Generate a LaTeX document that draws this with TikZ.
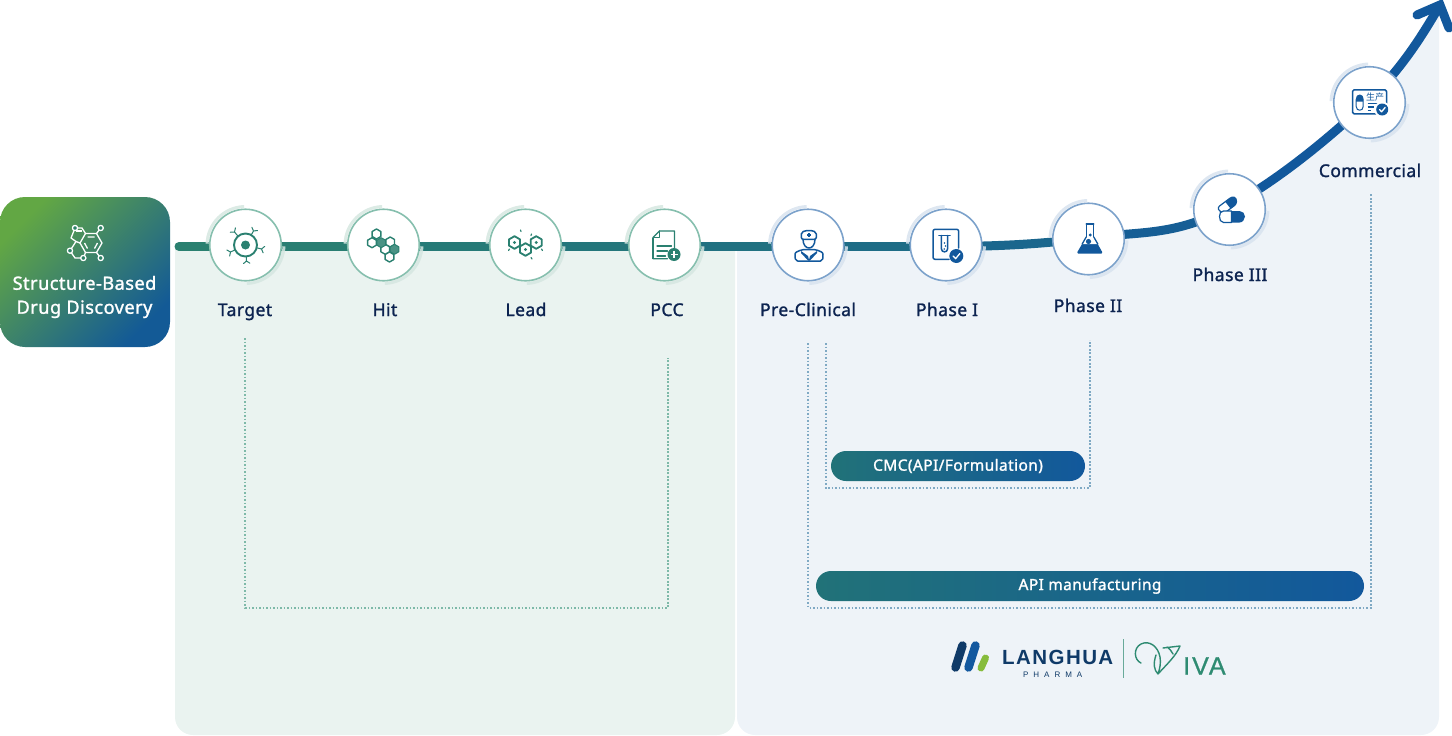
\documentclass[tikz,border=0pt]{standalone}
\usepackage{fontspec}
\setmainfont{Noto Sans}
\newfontfamily\labfont{Noto Sans}[FakeBold=1.4,LetterSpace=2.5]
\newfontfamily\logofont{Liberation Sans}[LetterSpace=7]
\newfontfamily\pharmafont{Liberation Sans}[LetterSpace=62]
\newfontfamily\ivafont{Liberation Sans}[LetterSpace=8,FakeBold=1]
\newfontfamily\cjk{Noto Sans CJK SC}
\pgfdeclarelayer{panel}\pgfdeclarelayer{flow}\pgfdeclarelayer{halo}
\pgfsetlayers{panel,flow,halo,main}
\definecolor{gdark}{HTML}{2A8070}
\definecolor{gring}{HTML}{86BFAE}
\definecolor{ghalo}{HTML}{D6E7E1}
\definecolor{bdark}{HTML}{12589C}
\definecolor{bring}{HTML}{7CA2CB}
\definecolor{bhalo}{HTML}{D8E3EF}
\definecolor{navy}{HTML}{0C2350}
\definecolor{leftpanel}{HTML}{EAF3F0}
\definecolor{rightpanel}{HTML}{EEF3F8}
\definecolor{logonavy}{HTML}{0F3A68}
\definecolor{logoblue}{HTML}{12589F}
\definecolor{logogreen}{HTML}{86BC3C}
\definecolor{viva}{HTML}{2E8B72}
\definecolor{boxa}{HTML}{62A744}
\definecolor{boxb}{HTML}{2E8268}
\definecolor{boxc}{HTML}{135A96}
\definecolor{pilla}{HTML}{217278}
\tikzset{
  x=1pt,y=-1pt,
  stage/.style={circle,minimum size=71.5pt,inner sep=0pt,fill=white,draw=#1,line width=1.6pt},
  steplabel/.style={font=\labfont\fontsize{17.5}{20}\selectfont,text=navy,inner sep=0pt,anchor=base},
  seg/.style={draw=#1,line width=9pt},
  pill/.style={rounded corners=15pt,inner sep=0pt,minimum height=30pt,left color=pilla,right color=bdark,text=white,font=\labfont\fontsize{15.5}{18}\selectfont},
  dotg/.style={draw=#1,line width=2pt,dash pattern=on 1.9pt off 1.6pt},
  ico/.style={draw=#1,line width=1.5pt,line join=round,line cap=round},
}
\newcommand\halos[2]{%
  \draw[#2,line width=3pt] ([shift={(92:38.5pt)}]#1.center) arc[start angle=92,end angle=178,radius=38.5pt];
  \draw[#2,line width=3pt] ([shift={(-88:38.5pt)}]#1.center) arc[start angle=-88,end angle=-2,radius=38.5pt];}
\newcommand\hexa[3]{(#1,#2-#3) -- (#1+0.866*#3,#2-0.5*#3) -- (#1+0.866*#3,#2+0.5*#3) -- (#1,#2+#3) -- (#1-0.866*#3,#2+0.5*#3) -- (#1-0.866*#3,#2-0.5*#3) -- cycle}
\newcommand\checkdot[4]{\fill[#4] (#1,#2) circle[radius=#3pt];
  \draw[white,line width=1.3pt,line cap=round,line join=round] (#1-0.45*#3,#2) -- (#1-0.1*#3,#2+0.38*#3) -- (#1+0.5*#3,#2-0.35*#3);}
\newcommand\ynub[2]{\draw[ico=gdark,line width=1pt] (0.72*#1,0.72*#2) -- (#1,#2) (#1,#2) -- +(0.2*#2+0.15*#1,-0.2*#1+0.15*#2) (#1,#2) -- +(-0.2*#2+0.15*#1,0.2*#1+0.15*#2);}
\begin{document}
\begin{tikzpicture}
\useasboundingbox (0,0) rectangle (1452,736);

% nodes
\node[rounded corners=25pt,minimum width=170pt,minimum height=150pt,inner sep=0pt,left color=boxa,middle color=boxb,right color=boxc,shading angle=45] (sbdd) at (85,272) {};
\node[stage=gring] (target) at (245.5,245) {};
\node[stage=gring] (hit) at (383.5,245) {};
\node[stage=gring] (lead) at (525.5,245) {};
\node[stage=gring] (pcc) at (664.5,245) {};
\node[stage=bring] (pre) at (808,245) {};
\node[stage=bring] (ph1) at (946,245) {};
\node[stage=bring] (ph2) at (1088.5,239) {};
\node[stage=bring] (ph3) at (1229.5,209.5) {};
\node[stage=bring] (com) at (1369.5,102.5) {};
\coordinate (flowstart) at (179,246.5);
\coordinate (flowtip) at (1440,5);

% panels
\begin{pgfonlayer}{panel}
\fill[leftpanel] (175,247) -- (175,717) .. controls (175,727) and (183,735) .. (193,735) -- (717,735) .. controls (727,735) and (735,727) .. (735,717) -- (735,247) -- cycle;
\begin{scope}
\clip (737,0) -- (737,717) .. controls (737,727) and (745,735) .. (755,735) -- (1421,735) .. controls (1431,735) and (1439,727) .. (1439,717) -- (1439,0) -- cycle;
\fill[rightpanel] (737,246.5) -- ([yshift=-1.5pt]ph1.center) .. controls +(50,0) and +(-45,6) .. ([yshift=1pt]ph2.center) .. controls +(50,-7) and +(-55,30) .. ([yshift=2.5pt]ph3.center) .. controls +(50,-28) and +(-40,38) .. ([yshift=2.5pt]com.center) .. controls +(30,-30) and +(-22,38) .. (flowtip) -- (1452,736) -- (737,736) -- cycle;
\end{scope}
\end{pgfonlayer}

% flow line
\begin{pgfonlayer}{flow}
\draw[seg=gdark,line cap=round] (flowstart) -- ([yshift=-1.5pt]target.center);
\draw[seg=gdark!96!bdark] ([yshift=-1.5pt]target.center) -- ([yshift=-1.5pt]hit.center);
\draw[seg=gdark!84!bdark] ([yshift=-1.5pt]hit.center) -- ([yshift=-1.5pt]lead.center);
\draw[seg=gdark!74!bdark] ([yshift=-1.5pt]lead.center) -- ([yshift=-1.5pt]pcc.center);
\draw[seg=gdark!62!bdark] ([yshift=-1.5pt]pcc.center) -- ([yshift=-1.5pt]pre.center);
\draw[seg=gdark!50!bdark] ([yshift=-1.5pt]pre.center) -- ([yshift=-1.5pt]ph1.center);
\draw[seg=gdark!35!bdark] ([yshift=-1.5pt]ph1.center) .. controls +(50,0) and +(-45,6) .. ([yshift=1pt]ph2.center);
\draw[seg=gdark!15!bdark] ([yshift=1pt]ph2.center) .. controls +(50,-7) and +(-55,30) .. ([yshift=2.5pt]ph3.center);
\draw[seg=bdark] ([yshift=2.5pt]ph3.center) .. controls +(50,-28) and +(-40,38) .. ([yshift=2.5pt]com.center);
\draw[seg=bdark] ([yshift=2.5pt]com.center) .. controls +(30,-30) and +(-22,38) .. (flowtip);
\draw[seg=bdark,line cap=round,line join=miter,fill=none] (1417,15) -- (flowtip) -- (1449,28);
\end{pgfonlayer}

% halos
\begin{pgfonlayer}{halo}
\foreach \n in {target,hit,lead,pcc}{\halos{\n}{ghalo,opacity=.85}}
\foreach \n in {pre,ph1,ph2,ph3,com}{\halos{\n}{bhalo,opacity=.85}}
\end{pgfonlayer}

% dotted guides
\draw[dotg=gring!90!gdark] (245,338) -- (245,607.5) -- (668,607.5) -- (668,358);
\draw[dotg=bring!75!gring] (808,343) -- (808,607.5) -- (1371,607.5) -- (1371,193);
\draw[dotg=bring!75!gring] (825.5,343) -- (825.5,487.5) -- (1090,487.5) -- (1090,340);

% labels
\node[steplabel] (ltarget) at (245,316) {Target};
\node[steplabel] (lhit) at (385,316) {Hit};
\node[steplabel] (llead) at (526,316) {Lead};
\node[steplabel] (lpcc) at (667,316) {PCC};
\node[steplabel] (lpre) at (808,316) {Pre-Clinical};
\node[steplabel] (lph1) at (947,316) {Phase I};
\node[steplabel] (lph2) at (1088,312) {Phase II};
\node[steplabel] (lph3) at (1230,281) {Phase III};
\node[steplabel] (lcom) at (1370,177) {Commercial};
\node[inner sep=0pt,text=white,font=\labfont\fontsize{18.2}{24}\selectfont,align=center] (sbddtext) at (84.5,297) {Structure-Based\\Drug Discovery};

% pills
\node[pill,minimum width=254pt] (cmc) at (958,466) {CMC(API/Formulation)};
\node[pill,minimum width=548pt] (api) at (1090,586) {API manufacturing};

% molecule icon
\begin{scope}[line width=1.3pt,white,line join=round]
\draw (80,243) -- (85.5,233.5) -- (96.5,233.5) -- (102,243) -- (96.5,252.5) -- (85.5,252.5) -- cycle;
\draw (87.5,237) -- (94.5,237) (97.5,243) -- (94.5,248.5) (87.5,248.5) -- (84.5,243);
\draw (75,228) -- (82,228) -- (85.5,233.5) (75,228) -- (71,238) -- (76,241.5) -- (80,243);
\draw (76,231) -- (81.5,231);
\draw (70,250.7) -- (76,241.5) (70,250.7) -- (75,258) -- (83.3,258) -- (85.5,252.5);
\draw (100.7,228) -- (96.5,233.5) (100.7,258) -- (96.5,252.5);
\foreach \p in {(75,228),(100.7,228),(70,250.7),(83.3,258),(100.7,258)}{\filldraw[fill=boxb] \p circle[radius=2.6pt];}
\end{scope}

% target icon
\begin{scope}[shift={(target.center)}]
\draw[gdark,line width=1.9pt] (0,0) circle[radius=11.5pt];
\fill[gdark] (0,0) circle[radius=4.5pt];
\ynub{-11}{-13}\ynub{8}{-14}\ynub{16}{4}\ynub{1}{16}\ynub{-15}{7}
\end{scope}

% hit icon
\begin{scope}[shift={(hit.center)}]
\draw[ico=gdark,line width=1.4pt] \hexa{-7}{-11}{5} \hexa{-11.5}{-2.3}{5} \hexa{6.7}{-3}{5} \hexa{1.7}{4.3}{5} \hexa{6}{12}{5};
\filldraw[ico=gdark,line width=1pt,fill=gdark!85] \hexa{-2.3}{-2.3}{5};
\filldraw[ico=gdark,line width=1pt,fill=gdark!85] \hexa{11}{4.3}{5};
\end{scope}

% lead icon
\begin{scope}[shift={(lead.center)}]
\draw[ico=gdark,line width=1.8pt] \hexa{-11}{-2.5}{6.3} \hexa{10.7}{-2.5}{6.3} \hexa{0}{4.5}{6.3};
\fill[gdark] (-11,-2.5) circle[radius=1.7pt] (10.7,-2.5) circle[radius=1.7pt] (0,4.5) circle[radius=1.7pt];
\draw[ico=gdark,line width=1.2pt] (-4.5,-13.5) -- (-5,-15) (5.5,12.5) -- (6.5,14) (5.5,-9.5) -- (6,-11) (-16,4) -- (-17,5.5) (16,4) -- (17,5.5);
\end{scope}

% pcc icon
\begin{scope}[shift={(pcc.center)}]
\draw[ico=gdark,line width=1.3pt] (-11.5,-7.5) -- (-5,-14) -- (10,-14) -- (10,5) (3,13.7) -- (-11.5,13.7) -- cycle;
\draw[ico=gdark,line width=1.3pt] (-11.5,-7.5) -- (-5,-7.5) -- (-5,-14) (-7.5,1) -- (7,1) (-7.5,6) -- (3,6) (-7.5,11) -- (1,11);
\draw[gdark,line width=1.3pt] (-11.5,-7.5) -- (-11.5,13.7);
\fill[gdark] (9.5,9.5) circle[radius=6.5pt];
\draw[white,line width=1.3pt] (6,9.5) -- (13,9.5) (9.5,6) -- (9.5,13);
\end{scope}

% doctor icon
\begin{scope}[shift={(pre.center)}]
\draw[ico=bdark,rounded corners=2pt] (-6.7,-5.7) -- (-6.7,-13) -- (1,-15) -- (8.3,-13) -- (8.3,-5.7) -- cycle;
\draw[bdark,line width=1.3pt] (-0.8,-10) -- (2.8,-10) (1,-11.8) -- (1,-8.2);
\draw[ico=bdark] (-5,-5.7) .. controls (-5,0) and (-2,3) .. (1,3) .. controls (4,3) and (7,0) .. (7,-5.7);
\draw[ico=bdark,rounded corners=2pt] (-12.5,16) -- (-13,11) .. controls (-13,7) and (-9,6) .. (-6,4.5) -- (8,4.5) .. controls (11,6) and (15,7) .. (15,11) -- (14.5,16) -- cycle;
\fill[bdark] (-7,6) -- (0,11) -- (1,15) -- (2,11) -- (9,6) -- (9,8) -- (2,15.5) -- (0,15.5) -- (-7,8) -- cycle;
\end{scope}

% phase I icon
\begin{scope}[shift={(ph1.center)}]
\draw[ico=bdark,rounded corners=2pt] (3,14.3) -- (-13,14.3) -- (-13,-15.7) -- (12.7,-15.7) -- (12.7,3);
\draw[ico=bdark,line width=1.6pt] (-7,-9.5) -- (4,-9.5);
\draw[ico=bdark] (-4.7,-9.5) -- (-4.7,3.5) .. controls (-4.7,8) and (1.7,8) .. (1.7,3.5) -- (1.7,-9.5);
\fill[bdark] (-1.5,-2) circle[radius=.9pt] (-0.5,1) circle[radius=.9pt] (-1.8,4) circle[radius=.9pt];
\checkdot{10.3}{11}{7}{bdark}
\end{scope}

% phase II icon
\begin{scope}[shift={(ph2.center)}]
\draw[ico=bdark,line width=1.3pt] (-2.3,-15) -- (5.3,-15) (-2.3,-15) -- (-2.3,-2) (5.3,-15) -- (5.3,-2);
\fill[bdark,rounded corners=1.5pt] (-2.3,-2) -- (-12,14.5) -- (14.5,14.5) -- (5.3,-2) -- cycle;
\fill[white] (-2.3,-2) -- (-6.3,5) -- (9.3,5) -- (5.3,-2) -- cycle;
\draw[ico=bdark,line width=1.3pt] (-2.3,-2) -- (-6.3,5) (5.3,-2) -- (9.3,5);
\fill[bdark] (0,2.5) circle[radius=2.6pt] (1.7,-4) circle[radius=1.7pt];
\end{scope}

% phase III icon
\begin{scope}[shift={(ph3.center)}]
\draw[ico=bdark,line width=1.2pt] (-9,2) .. controls (-13,-1) and (-11,-3) .. (-8,-5) -- (0,-11) .. controls (4,-14) and (7,-12) .. (7,-8) .. controls (7,-6) and (6,-5) .. (5,-4) -- (-3,2) .. controls (-5,3.5) and (-7,3.5) .. (-9,2) -- cycle;
\fill[bdark] (-4.5,-8) -- (0,-11) .. controls (4,-14) and (7,-12) .. (7,-8) .. controls (7,-6) and (6,-5) .. (5,-4) -- (1,-1) -- cycle;
\draw[ico=bdark,line width=1.2pt,fill=white] (-6,1.5) -- (2,1.5) -- (2,13) -- (-6,13) .. controls (-9,13) and (-10,10) .. (-10,7) .. controls (-10,4) and (-9,1.5) .. (-6,1.5) -- cycle;
\fill[bdark] (2,1.5) -- (10,1.5) .. controls (13,1.5) and (15.5,4) .. (15.5,7) .. controls (15.5,10) and (13,13) .. (10,13) -- (2,13) -- cycle;
\end{scope}

% commercial icon
\begin{scope}[shift={(com.center)}]
\draw[ico=bdark,rounded corners=1.5pt] (-17,-12.7) rectangle (17,11.3);
\draw[ico=bdark,line width=1pt,fill=white] (-13.3,-3) -- (-13.3,4) .. controls (-13.3,9) and (-6.3,9) .. (-6.3,4) -- (-6.3,-3) .. controls (-6.3,-9) and (-13.3,-9) .. (-13.3,-3) -- cycle;
\fill[bdark] (-13.3,-1) -- (-13.3,-3) .. controls (-13.3,-9) and (-6.3,-9) .. (-6.3,-3) -- (-6.3,-1) -- cycle;
\node[inner sep=0pt,text=bdark,font=\cjk\fontsize{9}{9}\selectfont] (comtext) at (5.5,-5) {生产};
\draw[bdark,line width=1.1pt] (-2,1) -- (8,1) (-2,4.5) -- (4,4.5) (-2,8) -- (1,8);
\draw[white,line width=2pt] (12.7,7) circle[radius=7pt];
\checkdot{12.7}{7}{6}{bdark}
\end{scope}

% logo
\draw[logonavy,line width=8.5pt,line cap=round] (962.5,645.5) -- (955.5,667.5);
\draw[logoblue,line width=8.5pt,line cap=round] (975.5,645.5) -- (968.5,667.5);
\draw[logogreen,line width=7pt,line cap=round] (985.5,658) -- (981,668);
\node[inner sep=0pt,text=logonavy,anchor=west,font=\logofont\bfseries\fontsize{20.5}{21}\selectfont] (langhua) at (1002,657.5) {LANGHUA};
\node[inner sep=0pt,text=logonavy,anchor=west,font=\pharmafont\fontsize{8}{8}\selectfont] (pharma) at (1023,675) {PHARMA};
\draw[viva!70!rightpanel,line width=1pt] (1123.5,639) -- (1123.5,678);
\node[inner sep=0pt,text=viva,anchor=base west,font=\ivafont\fontsize{25}{25}\selectfont] (iva) at (1183,674.5) {IVA};
\draw[viva,line width=1.4pt,line cap=round,line join=round] (1141,663) .. controls (1134,660) and (1133,648) .. (1141,644) .. controls (1149,640) and (1158,646) .. (1160,657) .. controls (1161,663) and (1160,668) .. (1158,674) (1163,648) -- (1180,646) .. controls (1176,656) and (1167,664) .. (1158,674) (1167,647) .. controls (1170,649) and (1172,652) .. (1173,654) (1158,674) .. controls (1154,670) and (1153,664) .. (1156,655);
\end{tikzpicture}
\end{document}
